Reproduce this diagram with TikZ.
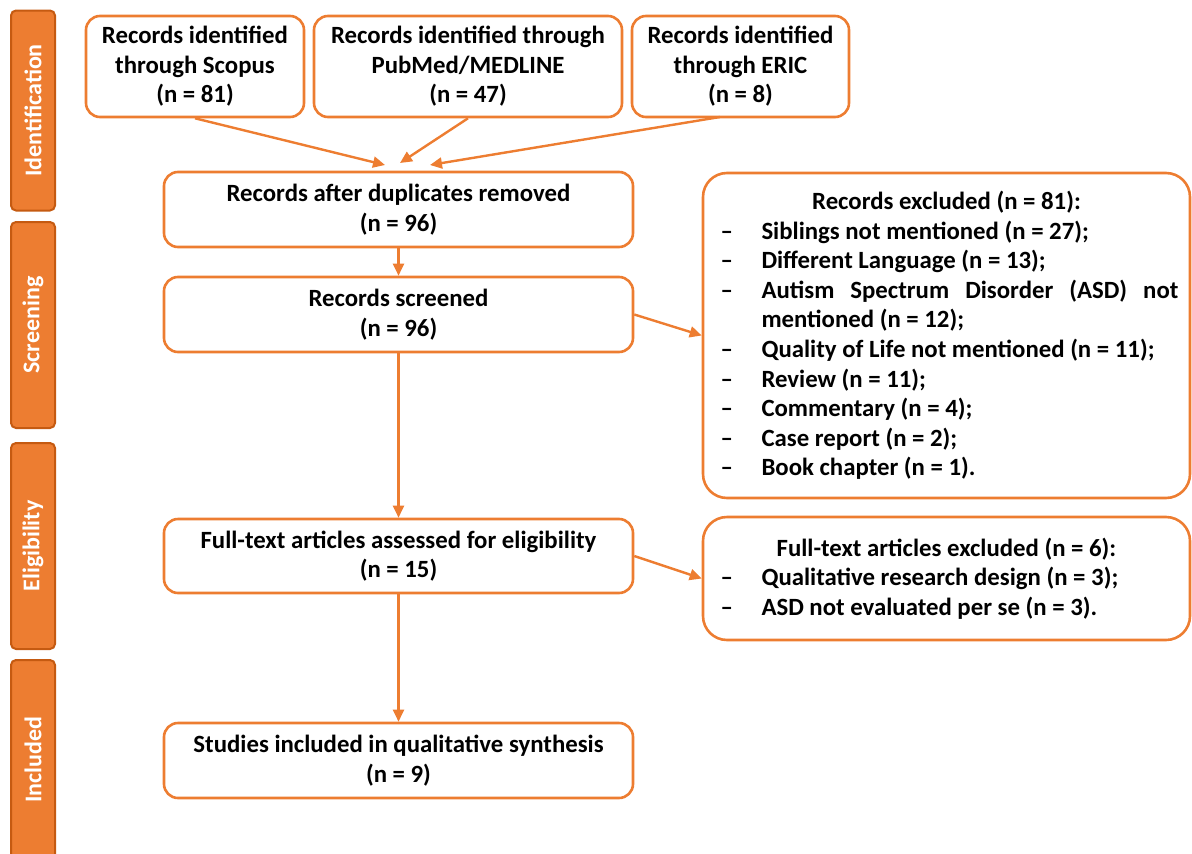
\documentclass[tikz,border=0pt]{standalone}
\usepackage{fontspec}
\setmainfont{Carlito}
\usetikzlibrary{arrows.meta}
\definecolor{orng}{HTML}{ED7D31}
\definecolor{orngdark}{HTML}{C55A11}
\newcommand\ditem[1]{\par\noindent\hangindent=47pt\hangafter=1\makebox[47pt][l]{\hspace{6pt}–}#1}
\begin{document}
\begin{tikzpicture}[x=1pt,y=-1pt,
  font=\fontsize{24.8}{29.6}\selectfont\bfseries,
  box/.style={draw=orng, line width=2.6pt, rounded corners=14pt, align=center, inner sep=0pt, fill=white},
  bigbox/.style={draw=orng, line width=2.6pt, rounded corners=24pt, align=justify, inner sep=0pt, text width=464pt},
  phase/.style={draw=orngdark, fill=orng, line width=2pt, rounded corners=5pt, text=white, rotate=90,
    minimum height=44pt, inner sep=0pt, font=\fontsize{24}{28}\selectfont\bfseries},
  arr/.style={draw=orng, line width=2.4pt, -{Triangle[length=12pt,width=11pt]}}]
\clip (0,0) rectangle (1192,854);
% phase bars
\node[phase, minimum width=200pt] (idb) at (33,110.5) {Identification};
\node[phase, minimum width=206pt] (scb) at (33,325) {Screening};
\node[phase, minimum width=206pt] (elb) at (33,546) {Eligibility};
\node[phase, minimum width=200pt] (inb) at (33,760) {Included};
% top boxes
\node[box, minimum width=218pt, minimum height=101pt] (s1) at (195,66.5) {Records identified\\through Scopus\\(n = 81)};
\node[box, minimum width=308pt, minimum height=101pt] (s2) at (468,66.5) {Records identified through\\PubMed/MEDLINE\\(n = 47)};
\node[box, minimum width=217pt, minimum height=101pt] (s3) at (740.5,66.5) {Records identified\\through ERIC\\(n = 8)};
% main column
\node[box, minimum width=469pt, minimum height=75pt] (dup) at (398.5,209.5) {Records after duplicates removed\\(n = 96)};
\node[box, minimum width=469pt, minimum height=75pt] (scr) at (398.5,314.5) {Records screened\\(n = 96)};
\node[box, minimum width=469pt, minimum height=74pt] (ft) at (398.5,556) {Full-text articles assessed for eligibility\\(n = 15)};
\node[box, minimum width=469pt, minimum height=75pt] (inc) at (398.5,760.5) {Studies included in qualitative synthesis\\(n = 9)};
% exclusion boxes
\node[bigbox, minimum width=487pt, minimum height=325pt] (ex1) at (946.5,335.5) {%
{\centering Records excluded (n = 81):\par}%
\ditem{Siblings not mentioned (n = 27);}%
\ditem{Different Language (n = 13);}%
\ditem{Autism Spectrum Disorder (ASD) not\linebreak mentioned (n = 12);}%
\ditem{Quality of Life not mentioned (n = 11);}%
\ditem{Review (n = 11);}%
\ditem{Commentary (n = 4);}%
\ditem{Case report (n = 2);}%
\ditem{Book chapter (n = 1).}};
\node[bigbox, minimum width=487pt, minimum height=123pt] (ex2) at (946.5,578.5) {%
{\centering Full-text articles excluded (n = 6):\par}%
\ditem{Qualitative research design (n = 3);}%
\ditem{ASD not evaluated per se (n = 3).}};
% arrow targets
\coordinate (t1) at (385,165);
\coordinate (t2) at (400,163);
\coordinate (t3) at (430,165);
\coordinate (s3o) at (720,117);
% connectors
\draw[arr] (s1.south) -- (t1);
\draw[arr] (s2.south) -- (t2);
\draw[arr] (s3o) -- (t3);
\draw[arr] (dup.south) -- (scr.north);
\draw[arr] (scr.south) -- (ft.north);
\draw[arr] (ft.south) -- (inc.north);
\draw[arr] (scr.east) -- (ex1.west);
\draw[arr] (ft.east) -- (ex2.west);
\end{tikzpicture}
\end{document}
